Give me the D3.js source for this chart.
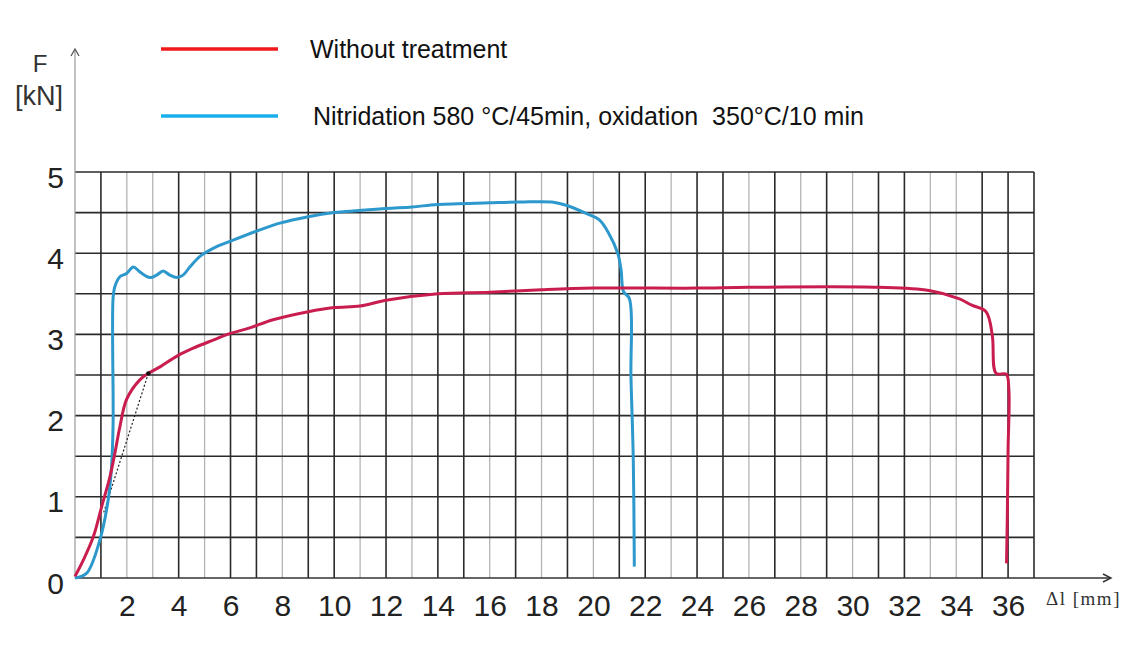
<!DOCTYPE html>
<html>
<head>
<style>
  body{
    margin: 0;
    background: white;
    font-family: 'Liberation Sans', Arial, sans-serif;
  }
</style>
</head>
<body>
<svg id='svgVis'></svg>

<script src="https://cdn.jsdelivr.net/npm/d3@7/dist/d3.min.js"></script>
<script>

// force-elongation readings, x = elongation [mm], y = force [kN]
var seriesNames = ['Without treatment', 'Nitridation 580 \u00B0C/45min, oxidation \u00A0350\u00B0C/10 min'];

var untreatedDl = [0,0.32,0.71,1.03,1.35,1.54,1.73,1.99,2.5,2.83,3.28,3.92,4.56,5.33,5.97,6.74,7.64,9.0,10,11,12,14,16,18,20,24,26,31,32.95,34.1,34.6,35.15,35.39,35.54,35.93,36.03,36.0,35.97,35.94];
var untreatedF  = [0.02,0.22,0.51,0.88,1.25,1.54,1.86,2.2,2.44,2.52,2.6,2.73,2.83,2.93,3.01,3.08,3.18,3.28,3.33,3.35,3.42,3.50,3.52,3.55,3.57,3.57,3.58,3.58,3.54,3.44,3.36,3.28,2.99,2.52,2.51,2.32,1.58,0.75,0.18];

var nitridedDl = [0,0.45,0.96,1.28,1.41,1.47,1.47,1.54,1.73,1.99,2.25,2.5,2.89,3.15,3.4,3.66,3.92,4.17,4.43,4.82,5.33,6.1,7.0,7.9,9.0,10,12,13,14,16,17.2,18.4,18.95,19.72,20.23,20.6,20.94,21.07,21.16,21.39,21.45,21.54,21.58];
var nitridedF  = [0,0.06,0.47,0.96,1.37,1.9,3.45,3.59,3.71,3.75,3.83,3.77,3.70,3.73,3.78,3.73,3.70,3.73,3.83,3.96,4.06,4.16,4.27,4.37,4.45,4.50,4.55,4.57,4.60,4.62,4.63,4.63,4.59,4.49,4.41,4.24,4.0,3.79,3.53,3.44,2.48,1.45,0.14];

// secant (dotted) line on the untreated curve
var secantDl = [2.83, 1.1];
var secantF  = [2.52, 0.8];

var xTicks = [2,4,6,8,10,12,14,16,18,20,22,24,26,28,30,32,34,36];
var yTicks = [0,1,2,3,4,5];

// grid lines that came out dark in the scan
var darkVert = [1,4,6,7,9,10,12,14,15,17,19,21,22,24,25,27,29,31,32,35,36,37];

var width = 1125, height = 647;

var svg = d3.select('#svgVis')
    .attr('width', width)
    .attr('height', height);

var x = d3.scaleLinear().domain([0, 37]).range([75, 1034]);
var y = d3.scaleLinear().domain([0, 5]).range([578, 172]);

// grid
var grid = svg.append('g');

d3.range(1, 38).forEach(function(d) {
  var dark = darkVert.indexOf(d) >= 0;
  grid.append('line')
    .attr('x1', x(d)).attr('x2', x(d))
    .attr('y1', y(0)).attr('y2', y(5))
    .attr('stroke', dark ? '#2a2a2a' : '#b4b4b4')
    .attr('stroke-width', dark ? 1.6 : 1.3);
});

d3.range(0.5, 5.01, 0.5).forEach(function(d) {
  grid.append('line')
    .attr('x1', x(0)).attr('x2', x(37))
    .attr('y1', y(d)).attr('y2', y(d))
    .attr('stroke', '#2a2a2a')
    .attr('stroke-width', 1.6);
});

// axes with arrows
svg.append('line')
  .attr('x1', x(0)).attr('x2', 1110)
  .attr('y1', y(0)).attr('y2', y(0))
  .attr('stroke', '#333').attr('stroke-width', 1.6);
svg.append('path')
  .attr('d', 'M1103,574 L1111,578 L1103,582')
  .attr('fill', 'none').attr('stroke', '#333').attr('stroke-width', 1.4);

svg.append('line')
  .attr('x1', x(0)).attr('x2', x(0))
  .attr('y1', y(0)).attr('y2', 50)
  .attr('stroke', '#999').attr('stroke-width', 1.2);
svg.append('path')
  .attr('d', 'M' + (x(0) - 4) + ',56 L' + x(0) + ',49 L' + (x(0) + 4) + ',56')
  .attr('fill', 'none').attr('stroke', '#555').attr('stroke-width', 1.3);

var xAxis = svg.append('g')
  .attr('transform', 'translate(0,' + y(0) + ')')
  .call(d3.axisBottom(x).tickValues(xTicks).tickSize(0).tickPadding(17).tickFormat(d3.format('d')));
xAxis.select('.domain').remove();
xAxis.selectAll('text')
  .attr('font-size', 30)
  .attr('font-family', "'Liberation Sans', Arial, sans-serif")
  .attr('fill', '#222');

var yAxis = svg.append('g')
  .attr('transform', 'translate(' + x(0) + ',0)')
  .call(d3.axisLeft(y).tickValues(yTicks).tickSize(0).tickPadding(11).tickFormat(d3.format('d')));
yAxis.select('.domain').remove();
yAxis.selectAll('text')
  .attr('font-size', 30)
  .attr('dy', '0.5em')
  .attr('font-family', "'Liberation Sans', Arial, sans-serif")
  .attr('fill', '#222');

// axis titles
svg.append('text').attr('x', 40).attr('y', 72)
  .attr('text-anchor', 'middle').attr('font-size', 24).attr('fill', '#333')
  .text('F');
svg.append('text').attr('x', 39).attr('y', 105)
  .attr('text-anchor', 'middle').attr('font-size', 27).attr('fill', '#333')
  .text('[kN]');
svg.append('text').attr('x', 1046).attr('y', 605)
  .attr('font-size', 19)
  .attr('font-family', "'Liberation Serif', 'Times New Roman', serif")
  .attr('letter-spacing', 1.5)
  .attr('fill', '#333')
  .text('\u0394l [mm]');

// curves
var line = d3.line()
  .x(function(d) { return x(d[0]); })
  .y(function(d) { return y(d[1]); })
  .curve(d3.curveCatmullRom.alpha(0.5));

var untreated = untreatedDl.map(function(d, i) { return [d, untreatedF[i]]; });
var nitrided = nitridedDl.map(function(d, i) { return [d, nitridedF[i]]; });
var secant = secantDl.map(function(d, i) { return [d, secantF[i]]; });

svg.append('path')
  .datum(secant)
  .attr('d', d3.line().x(function(d) { return x(d[0]); }).y(function(d) { return y(d[1]); }))
  .attr('fill', 'none')
  .attr('stroke', '#222')
  .attr('stroke-width', 1.2)
  .attr('stroke-dasharray', '2,2');

svg.append('path')
  .datum(nitrided)
  .attr('d', line)
  .attr('fill', 'none')
  .attr('stroke', '#2c98cc')
  .attr('stroke-width', 3);

svg.append('path')
  .datum(untreated)
  .attr('d', line)
  .attr('fill', 'none')
  .attr('stroke', '#c81d4e')
  .attr('stroke-width', 3);

svg.append('circle')
  .attr('cx', x(secantDl[0])).attr('cy', y(secantF[0]))
  .attr('r', 2.2).attr('fill', '#111');

// legend
var legendColors = ['#f01818', '#18b0ea'];
var legendY = [49, 116];
var legendTextX = [310, 313];

seriesNames.forEach(function(name, i) {
  svg.append('line')
    .attr('x1', 161).attr('x2', 278)
    .attr('y1', legendY[i]).attr('y2', legendY[i])
    .attr('stroke', legendColors[i])
    .attr('stroke-width', 3.5);
  svg.append('text')
    .attr('x', legendTextX[i]).attr('y', legendY[i] + 9)
    .attr('font-size', 25)
    .attr('fill', '#111')
    .text(name);
});

</script>
</body>
</html>
